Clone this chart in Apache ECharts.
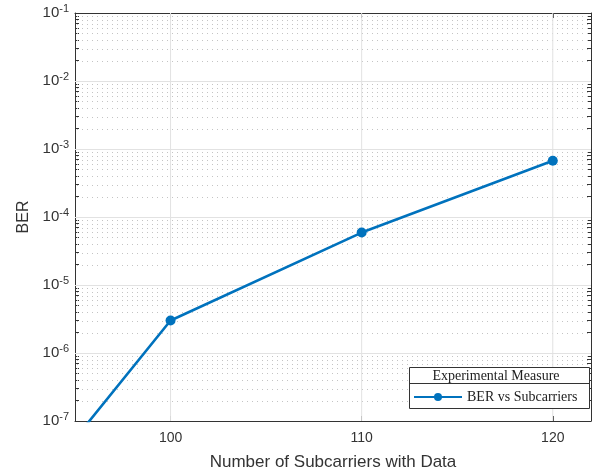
<!DOCTYPE html>
<html><head><meta charset="utf-8">
<script src="https://cdn.jsdelivr.net/npm/echarts@6/dist/echarts.min.js"></script>
<style>html,body{margin:0;padding:0;background:#fff}#c{width:599px;height:472px}</style>
</head><body><div id="c"></div>
<script>
// ---- data ----
const subcarriers = [90, 100, 110, 120];
const berValues = [1.0e-9, 3.0e-6, 5.9e-5, 6.7e-4];
const xTickValues = [100, 110, 120];
const yDecades = [1e-7, 1e-6, 1e-5, 1e-4, 1e-3, 1e-2, 1e-1];
const yMinorMultipliers = [2, 3, 4, 5, 6, 7, 8, 9];
const seriesName = 'BER vs Subcarriers';
const legendTitle = 'Experimental Measure';
const xTitle = 'Number of Subcarriers with Data';
const yTitle = 'BER';

// ---- derived ----
const yMinorValues = [];
yDecades.slice(0, -1).forEach(d => yMinorMultipliers.forEach(k => yMinorValues.push(+(k * d).toPrecision(3))));
const yAllTicks = yDecades.concat(yMinorValues);

const chart = echarts.init(document.getElementById('c'), null, {renderer: 'canvas'});
const blue = '#0072BD';
const axisColor = '#333';
const font = 'Liberation Sans, Arial, sans-serif';
const serif = 'Liberation Serif, Times New Roman, serif';

// grid line rows: [kind, value]  (kind 0 = minor y, 1 = major y, 2 = major x)
const gridRows = yMinorValues.map(v => [0, v])
  .concat(yDecades.slice(1, -1).map(v => [1, v]))
  .concat(xTickValues.map(v => [2, v]));

function renderGrid(params, api) {
  const cs = params.coordSys;
  const kind = api.value(0), v = api.value(1);
  if (kind === 2) {
    const x = api.coord([v, 1e-4])[0];
    return {type: 'line', silent: true,
      shape: {x1: x, y1: cs.y, x2: x, y2: cs.y + cs.height},
      style: {stroke: '#e2e2e2', lineWidth: 1}};
  }
  const y = api.coord([100, v])[1];
  const yy = Math.round(y) + 0.5;
  if (kind === 1) {
    return {type: 'line', silent: true,
      shape: {x1: cs.x, y1: yy, x2: cs.x + cs.width, y2: yy},
      style: {stroke: '#e2e2e2', lineWidth: 1}};
  }
  return {type: 'line', silent: true,
    shape: {x1: cs.x + 2, y1: yy, x2: cs.x + cs.width, y2: yy},
    style: {stroke: '#c4c4c4', lineWidth: 1, lineDash: [1, 4]}};
}

const option = {
  backgroundColor: '#fff',
  animation: false,
  grid: {left: 75, right: 8, top: 13, bottom: 51, containLabel: false, outerBoundsMode: 'none'},
  xAxis: [{
    type: 'value', min: 95, max: 122, position: 'bottom',
    axisLine: {show: true, onZero: false, lineStyle: {color: axisColor, width: 1}},
    axisTick: {show: true, inside: true, length: 5, customValues: xTickValues, lineStyle: {color: axisColor}},
    axisLabel: {customValues: xTickValues, fontSize: 14, color: '#333', margin: 10, fontFamily: font},
    splitLine: {show: false},
    name: xTitle, nameLocation: 'middle', nameGap: 33,
    nameTextStyle: {fontSize: 17, color: '#333', fontFamily: font}
  }, {
    type: 'value', min: 95, max: 122, position: 'top',
    axisLine: {show: true, onZero: false, lineStyle: {color: axisColor, width: 1}},
    axisTick: {show: true, inside: true, length: 5, customValues: xTickValues, lineStyle: {color: axisColor}},
    axisLabel: {show: false}, splitLine: {show: false}
  }],
  yAxis: [{
    type: 'log', logBase: 10, min: 1e-7, max: 1e-1, position: 'left',
    axisLine: {show: true, onZero: false, lineStyle: {color: axisColor, width: 1}},
    axisTick: {show: true, inside: true, length: 4, customValues: yAllTicks, lineStyle: {color: axisColor}},
    axisLabel: {
      customValues: yDecades, margin: 6, color: '#333', fontFamily: font,
      formatter: v => '{b|10}{s|' + Math.round(Math.log10(v)) + '}',
      rich: {b: {fontSize: 15, fontFamily: font, color: '#333'},
             s: {fontSize: 11, fontFamily: font, color: '#333', padding: [0, 0, 9, 0]}}
    },
    splitLine: {show: false},
    name: yTitle, nameLocation: 'middle', nameGap: 42, nameRotate: 90,
    nameTextStyle: {fontSize: 16, color: '#333', fontFamily: font}
  }, {
    type: 'log', logBase: 10, min: 1e-7, max: 1e-1, position: 'right',
    axisLine: {show: true, onZero: false, lineStyle: {color: axisColor, width: 1}},
    axisTick: {show: true, inside: true, length: 4, customValues: yAllTicks, lineStyle: {color: axisColor}},
    axisLabel: {show: false}, splitLine: {show: false}
  }],
  series: [{
    name: 'grid', type: 'custom', xAxisIndex: 0, yAxisIndex: 0, silent: true, z: 1,
    data: gridRows, renderItem: renderGrid, clip: true
  }, {
    name: seriesName, type: 'line', xAxisIndex: 0, yAxisIndex: 0, z: 5,
    data: subcarriers.map((x, i) => [x, berValues[i]]),
    symbol: 'circle', symbolSize: 10, showAllSymbol: true, clip: true,
    lineStyle: {color: blue, width: 2.6}, itemStyle: {color: blue}
  }],
  legend: {
    data: [seriesName], left: 413, top: 390, itemWidth: 48, itemHeight: 10, itemGap: 4,
    z: 200, zlevel: 0,
    textStyle: {fontFamily: serif, fontSize: 14, color: '#222'}, padding: 0
  },
  graphic: [
    {type: 'rect', z: 100, shape: {x: 409.5, y: 367.5, width: 180, height: 41},
     style: {fill: '#fff', stroke: '#333', lineWidth: 1}},
    {type: 'line', z: 101, shape: {x1: 409.5, y1: 383.5, x2: 589.5, y2: 383.5}, style: {stroke: '#333', lineWidth: 1}},
    {type: 'text', z: 101, x: 496, y: 376,
     style: {text: legendTitle, font: '14px ' + serif, fill: '#222', align: 'center', verticalAlign: 'middle'}}
  ]
};
chart.setOption(option);
</script></body></html>
